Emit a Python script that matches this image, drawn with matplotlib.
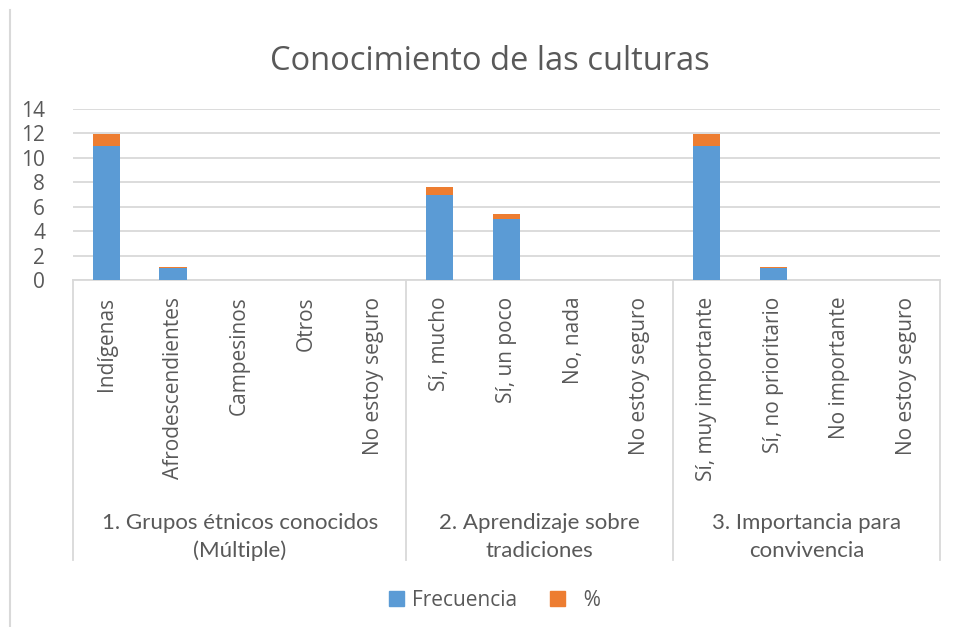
import matplotlib.pyplot as plt
from matplotlib.lines import Line2D
from matplotlib.patches import Patch

categories = ["Indígenas", "Afrodescendientes", "Campesinos", "Otros", "No estoy seguro",
              "Sí, mucho", "Sí, un poco", "No, nada", "No estoy seguro",
              "Sí, muy importante", "Sí, no prioritario", "No importante", "No estoy seguro"]
frecuencia = [11, 1, 0, 0, 0, 7, 5, 0, 0, 11, 1, 0, 0]
porcentaje = [0.92, 0.08, 0, 0, 0, 0.58, 0.42, 0, 0, 0.92, 0.08, 0, 0]
groups = ["1. Grupos étnicos conocidos\n(Múltiple)",
          "2. Aprendizaje sobre\ntradiciones",
          "3. Importancia para\nconvivencia"]
group_sizes = [5, 4, 4]

BLUE = "#5B9BD5"
ORANGE = "#ED7D31"
TEXT = "#595959"
GRID = "#D9D9D9"

W, H = 957, 627
fig = plt.figure(figsize=(W / 100, H / 100), dpi=100)
ax = fig.add_axes([73 / W, 347 / H, 867 / W, 171 / H])

x = list(range(len(categories)))
ax.bar(x, frecuencia, width=0.41, color=BLUE, zorder=3, label="Frecuencia")
ax.bar(x, porcentaje, width=0.41, bottom=frecuencia, color=ORANGE, zorder=3, label="%")

ax.set_xlim(-0.5, len(categories) - 0.5)
ax.set_ylim(0, 14)
ax.set_yticks(range(0, 15, 2))
ax.grid(axis="y", color=GRID, linewidth=1.3, zorder=0)
for s in ["top", "right", "left"]:
    ax.spines[s].set_visible(False)
ax.spines["bottom"].set_color(GRID)
ax.spines["bottom"].set_linewidth(1.3)
ax.tick_params(axis="y", length=0, pad=20, labelsize=15, labelcolor=TEXT)
for t in ax.get_yticklabels():
    t.set_fontfamily("Open Sans")
    t.set_horizontalalignment("right")

ax.set_xticks(x)
ax.set_xticklabels(categories, rotation=90, fontsize=15, color=TEXT, family="Open Sans")
ax.tick_params(axis="x", length=0, pad=12)

# group separators and group labels below the axis
y_bot = (H - 560 - 347) / 171
start = 0
bounds = [-0.5]
for g, n in zip(groups, group_sizes):
    start += n
    bounds.append(start - 0.5)
for b in bounds:
    ax.add_line(Line2D([b, b], [0, y_bot], transform=ax.get_xaxis_transform(),
                       color=GRID, linewidth=1.3, clip_on=False))
for i, g in enumerate(groups):
    cx = (bounds[i] + bounds[i + 1]) / 2
    ax.text(cx, (H - 537 - 347) / 171, g, transform=ax.get_xaxis_transform(),
            ha="center", va="center", multialignment="center", fontsize=16,
            color=TEXT, family="Lato", linespacing=1.45)

fig.text(490 / W, 1 - 62 / H, "Conocimiento de las culturas", ha="center", va="center",
         fontsize=23.5, color=TEXT, family="Open Sans")

# chart area left border
fig.add_artist(Line2D([10 / W, 10 / W], [0, 1 - 10 / H], color=GRID, linewidth=1.5))

handles = [Patch(color=BLUE, label="Frecuencia"), Patch(color=ORANGE, label="  %")]
fig.legend(handles=handles, loc="center", bbox_to_anchor=(495 / W, 27 / H), ncol=2,
           frameon=False, handlelength=0.7, handleheight=0.7, handletextpad=0.4,
           columnspacing=1.6, prop={"family": "Open Sans", "size": 15}, labelcolor=TEXT)

fig.savefig("out.png", dpi=100, facecolor="white")
